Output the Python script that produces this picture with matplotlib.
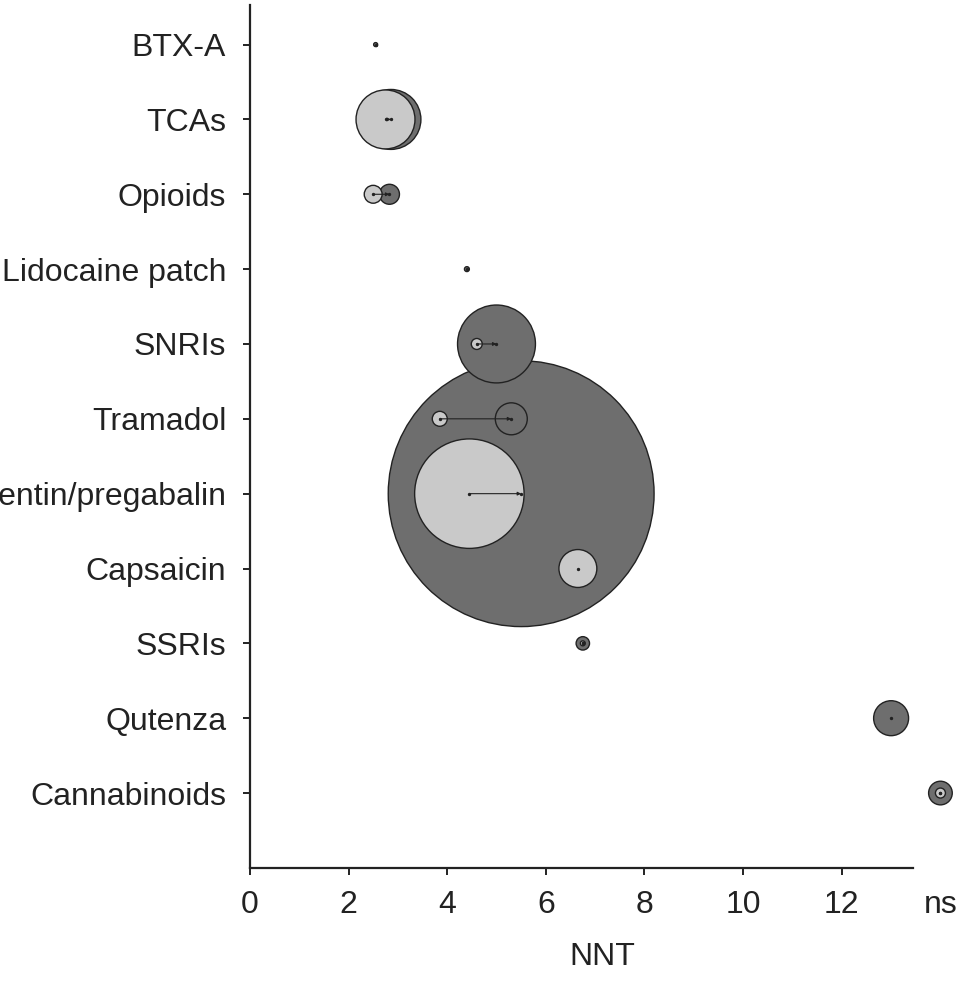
"""NNT bubble chart"""

import numpy as np
import matplotlib.pyplot as plt

plt.rcParams['font.family'] = ['Liberation Sans', 'DejaVu Sans']

# drugs from top to bottom, 'ns' = not significant
drugs = ['BTX-A', 'TCAs', 'Opioids', 'Lidocaine patch', 'SNRIs', 'Tramadol',
         'Gabapentin/pregabalin', 'Capsaicin', 'SSRIs', 'Qutenza', 'Cannabinoids']

# light bubbles (earlier estimate) and dark bubbles (updated estimate)
nnt_light = [None, 2.75, 2.5, None, 4.6, 3.85, 4.45, 6.65, 6.75, None, 'ns']
n_light = [0, 870, 80, 0, 30, 56, 3000, 360, 6, 0, 25]
nnt_dark = [2.55, 2.86, 2.83, 4.4, 5.0, 5.3, 5.5, None, 6.75, 13.0, 'ns']
n_dark = [4, 900, 100, 6, 1520, 256, 17700, 0, 45, 306, 140]

xticks = [0, 2, 4, 6, 8, 10, 12, 'ns']

NS_POS = 14
LIGHT = '#c9c9c9'
DARK = '#6e6e6e'


def to_x(v):
    return NS_POS if v == 'ns' else v


fig, ax = plt.subplots(figsize=(9.61, 9.84), dpi=100)
fig.subplots_adjust(left=0.26, right=0.994, top=0.995, bottom=0.118)

# collect every bubble, draw biggest first so small ones stay visible
xs, ys, sizes, colors = [], [], [], []
for i in range(len(drugs)):
    for v, n, c in [(nnt_light[i], n_light[i], LIGHT), (nnt_dark[i], n_dark[i], DARK)]:
        if v is None or n == 0:
            continue
        xs.append(to_x(v))
        ys.append(i)
        sizes.append(n * 2.07)
        colors.append(c)

order = np.argsort(sizes)[::-1]
xs = np.array(xs)[order]
ys = np.array(ys)[order]
sizes = np.array(sizes)[order]
colors = np.array(colors)[order]

ax.scatter(xs, ys, s=sizes, c=colors, edgecolors='#222222', linewidths=1.0, zorder=2)
ax.scatter(xs, ys, s=2, c='#222222', zorder=4)

# shift from light to dark estimate
for i in range(len(drugs)):
    a, b = nnt_light[i], nnt_dark[i]
    if a is None or b is None or a == b:
        continue
    ax.annotate('', xy=(to_x(b), i), xytext=(to_x(a), i),
                arrowprops=dict(arrowstyle='-|>', color='#222222', lw=0.8,
                                mutation_scale=5, shrinkA=0, shrinkB=0), zorder=3)

ax.set_ylim(11, -0.53)
ax.set_xlim(0, 14.3)
ax.set_yticks(range(len(drugs)))
ax.set_yticklabels(drugs)
ax.set_xticks([to_x(t) for t in xticks])
ax.set_xticklabels([str(t) for t in xticks])
ax.xaxis.get_major_ticks()[-1].tick1line.set_visible(False)

ax.spines['top'].set_visible(False)
ax.spines['right'].set_visible(False)
ax.spines['bottom'].set_bounds(0, 13.45)
for sp in ['left', 'bottom']:
    ax.spines[sp].set_linewidth(1.6)
    ax.spines[sp].set_color('#222222')

ax.tick_params(axis='both', labelsize=23, colors='#222222', width=1.4, length=5)
ax.tick_params(axis='x', pad=11)
ax.tick_params(axis='y', pad=12)
ax.set_xlabel('NNT', fontsize=23, color='#222222', labelpad=16)

plt.savefig('out.png', dpi=100)
